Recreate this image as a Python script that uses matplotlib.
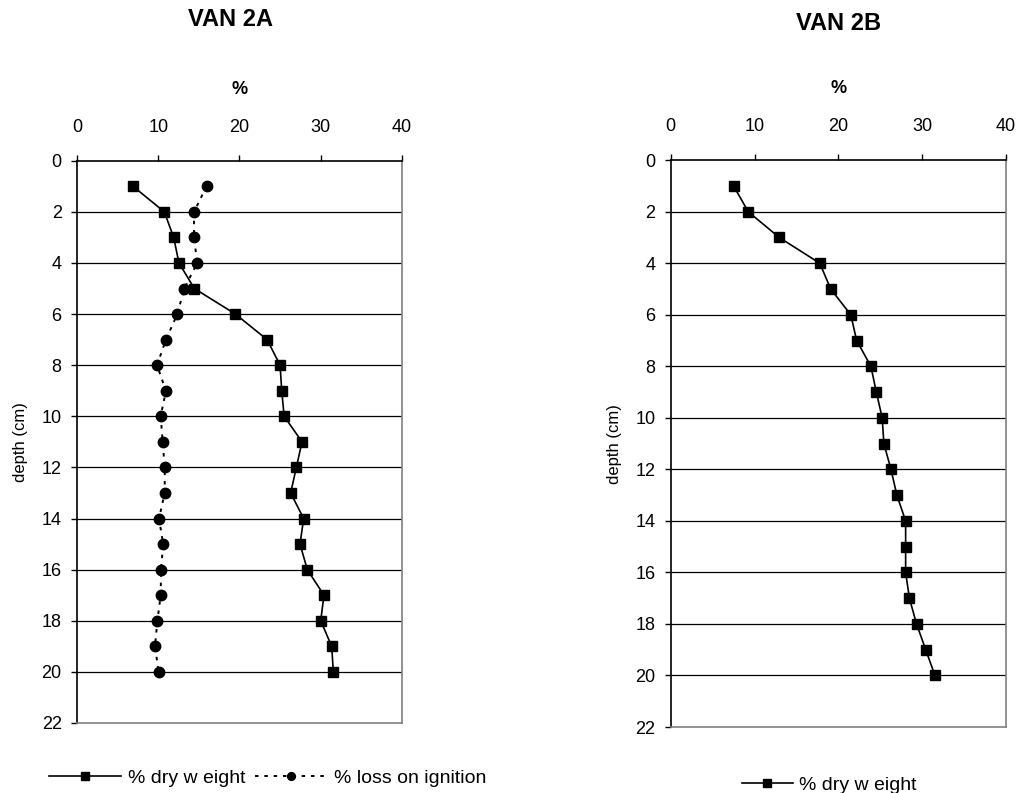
import matplotlib
matplotlib.use("Agg")
import matplotlib.pyplot as plt

plt.rcParams['font.family'] = ['Liberation Sans', 'DejaVu Sans']

depth = list(range(1, 21))

# VAN 2A
dry_weight_2a = [6.9, 10.75, 11.9, 12.55, 14.45, 19.5, 23.4, 25.0, 25.2, 25.5,
                 27.7, 27.0, 26.3, 27.9, 27.45, 28.35, 30.4, 30.0, 31.35, 31.55]
loss_ignition_2a = [15.95, 14.4, 14.4, 14.8, 13.2, 12.35, 10.95, 9.85, 10.95, 10.3,
                    10.55, 10.8, 10.8, 10.1, 10.6, 10.35, 10.3, 9.9, 9.6, 10.05]

# VAN 2B
dry_weight_2b = [7.5, 9.25, 12.95, 17.8, 19.1, 21.5, 22.2, 23.9, 24.55, 25.25,
                 25.45, 26.3, 27.0, 28.05, 28.05, 28.05, 28.5, 29.35, 30.45, 31.55]

x_ticks = [0, 10, 20, 30, 40]
y_ticks = list(range(0, 23, 2))


def style_axes(ax, ylabel_x):
    ax.set_xlim(0, 40)
    ax.set_ylim(22, 0)
    ax.set_xticks(x_ticks)
    ax.set_yticks(y_ticks)
    ax.xaxis.tick_top()
    ax.xaxis.set_label_position('top')
    ax.tick_params(axis='both', direction='out', length=4, width=1, labelsize=13,
                   color='black', pad=7)
    ax.tick_params(axis='x', pad=14)
    ax.set_xlabel('%', fontsize=13, fontweight='bold', labelpad=18)
    ax.set_ylabel('depth (cm)', fontsize=12)
    ax.yaxis.set_label_coords(ylabel_x, 0.5)
    for y in y_ticks[1:-1]:
        ax.axhline(y, color='black', linewidth=0.9, zorder=0)
    ax.spines['left'].set_color('black')
    ax.spines['top'].set_color('black')
    ax.spines['right'].set_color('#808080')
    ax.spines['bottom'].set_color('#808080')
    for s in ax.spines.values():
        s.set_linewidth(1.2)


fig = plt.figure(figsize=(10.21, 7.93), dpi=100)
ax1 = fig.add_axes([0.0754, 0.0883, 0.3183, 0.709])
ax2 = fig.add_axes([0.657, 0.0832, 0.328, 0.7148])

ax1.plot(dry_weight_2a, depth, color='black', linewidth=1.2, marker='s', markersize=7.5,
         label='% dry w eight')
ax1.plot(loss_ignition_2a, depth, color='black', linewidth=1.4, linestyle=(0, (1.8, 3)),
         marker='o', markersize=7.5, label='% loss on ignition')
style_axes(ax1, -0.151)
ax1.legend(loc='center', bbox_to_anchor=(0.262, 0.0189), bbox_transform=fig.transFigure,
           ncol=2, frameon=False, fontsize=14, handlelength=3.7, markerscale=0.75,
           columnspacing=0.5, handletextpad=0.35, borderpad=0, borderaxespad=0)

ax2.plot(dry_weight_2b, depth, color='black', linewidth=1.2, marker='s', markersize=7.5,
         label='% dry w eight')
style_axes(ax2, -0.146)
ax2.legend(loc='center', bbox_to_anchor=(0.8124, 0.0101), bbox_transform=fig.transFigure,
           ncol=1, frameon=False, fontsize=14, handlelength=2.6, markerscale=0.75,
           handletextpad=0.35, borderpad=0, borderaxespad=0)

fig.text(230 / 1021, 1 - 19 / 793, 'VAN 2A', ha='center', va='center',
         fontsize=17, fontweight='bold')
fig.text(839 / 1021, 1 - 24 / 793, 'VAN 2B', ha='center', va='center',
         fontsize=17, fontweight='bold')

fig.savefig('out.png', dpi=100)
